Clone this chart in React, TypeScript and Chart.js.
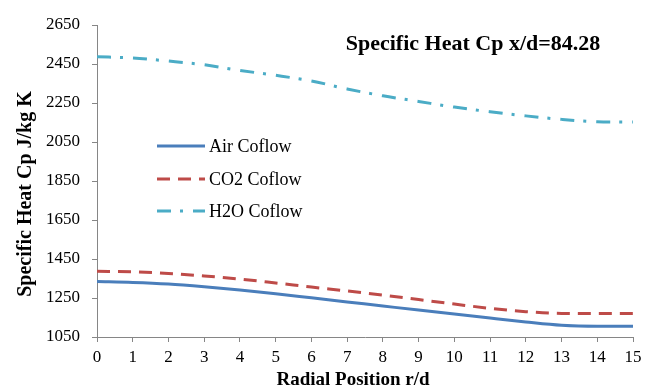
import React, { useEffect, useRef } from "react";
import { Chart, registerables } from "chart.js";

Chart.register(...registerables);

const radial = [0, 1, 2, 3, 4, 5, 6, 7, 8, 9, 10, 11, 12, 13, 14, 15];
const airCoflow = [1334, 1330, 1322, 1308, 1291, 1272, 1251, 1230, 1209, 1188, 1168, 1147, 1127, 1110, 1105, 1105];
const co2Coflow = [1387, 1384, 1376, 1363, 1347, 1327, 1306, 1286, 1265, 1242, 1219, 1197, 1180, 1171, 1170, 1170];
const h2oCoflow = [2487, 2481, 2465, 2446, 2417, 2392, 2363, 2322, 2287, 2258, 2229, 2205, 2184, 2166, 2154, 2152];
const seriesNames = ["Air Coflow", "CO2 Coflow", "H2O Coflow"];
const chartTitle = "Specific Heat Cp x/d=84.28";
const xTitle = "Radial Position r/d";
const yTitle = "Specific Heat Cp J/kg K";

const SERIF = "'Liberation Serif', 'Times New Roman', serif";
Chart.defaults.font.family = SERIF;

const overlayPlugin = {
  id: "overlay",
  afterDraw(chart: any) {
    const ctx = chart.ctx;
    ctx.save();
    ctx.fillStyle = "#000";
    ctx.font = `bold 22px ${SERIF}`;
    ctx.textAlign = "center";
    ctx.textBaseline = "middle";
    ctx.fillText(chartTitle, 473, 44);
    ctx.font = `bold 19px ${SERIF}`;
    ctx.fillText(xTitle, 353, 380);
    ctx.save();
    ctx.translate(26, 194);
    ctx.rotate(-Math.PI / 2);
    ctx.font = `bold 20px ${SERIF}`;
    ctx.fillText(yTitle, 0, 0);
    ctx.restore();
    const rows = [146, 179, 211];
    chart.data.datasets.forEach((ds: any, i: number) => {
      const y = rows[i];
      ctx.save();
      ctx.strokeStyle = ds.borderColor;
      ctx.lineWidth = ds.borderWidth;
      ctx.setLineDash(ds.borderDash || []);
      ctx.beginPath();
      ctx.moveTo(157, y);
      ctx.lineTo(205, y);
      ctx.stroke();
      ctx.restore();
      ctx.font = `18px ${SERIF}`;
      ctx.textAlign = "left";
      ctx.textBaseline = "middle";
      ctx.fillStyle = "#000";
      ctx.fillText(ds.label, 209, y + 1);
    });
    ctx.restore();
  },
};

export default function App() {
  const canvasRef = useRef<HTMLCanvasElement | null>(null);

  useEffect(() => {
    const canvas = canvasRef.current;
    if (!canvas) return;
    const mk = (ys: number[]) => radial.map((x, i) => ({ x, y: ys[i] }));
    const chart = new Chart(canvas, {
      type: "line",
      data: {
        datasets: [
          {
            label: seriesNames[0],
            data: mk(airCoflow),
            borderColor: "#4A7EBB",
            borderWidth: 3,
            pointRadius: 0,
            cubicInterpolationMode: "monotone",
          },
          {
            label: seriesNames[1],
            data: mk(co2Coflow),
            borderColor: "#BE4B48",
            borderWidth: 3,
            borderDash: [13, 8],
            pointRadius: 0,
            cubicInterpolationMode: "monotone",
          },
          {
            label: seriesNames[2],
            data: mk(h2oCoflow),
            borderColor: "#4BACC6",
            borderWidth: 3,
            borderDash: [14, 9, 3, 10],
            pointRadius: 0,
            cubicInterpolationMode: "monotone",
          },
        ],
      },
      options: {
        responsive: false,
        animation: false,
        devicePixelRatio: 1,
        layout: { padding: { top: 25, right: 25, left: 0, bottom: 0 } },
        plugins: {
          legend: { display: false },
          title: { display: false },
          tooltip: { enabled: false },
        },
        scales: {
          x: {
            type: "linear",
            min: 0,
            max: 15,
            ticks: {
              stepSize: 1,
              color: "#000",
              font: { family: SERIF, size: 17 },
              padding: 5,
              maxRotation: 0,
              callback: (v: any) => String(v),
            },
            grid: {
              display: true,
              drawOnChartArea: false,
              drawTicks: true,
              tickLength: 5,
              color: "#868686",
            },
            border: { color: "#868686", width: 1 },
            afterFit(scale: any) {
              scale.height = 53;
            },
          },
          y: {
            type: "linear",
            min: 1050,
            max: 2650,
            ticks: {
              stepSize: 200,
              color: "#000",
              font: { family: SERIF, size: 17 },
              padding: 12,
              callback: (v: any) => String(v),
            },
            grid: {
              display: true,
              drawOnChartArea: false,
              drawTicks: true,
              tickLength: 5,
              color: "#868686",
            },
            border: { color: "#868686", width: 1 },
            afterFit(scale: any) {
              scale.width = 97;
            },
          },
        },
      },
      plugins: [overlayPlugin],
    } as any);
    return () => chart.destroy();
  }, []);

  return (
    <div style={{ position: "fixed", left: 0, top: 0, width: 658, height: 390, background: "#fff" }}>
      <canvas ref={canvasRef} width={658} height={390} style={{ width: 658, height: 390, display: "block" }} />
    </div>
  );
}
